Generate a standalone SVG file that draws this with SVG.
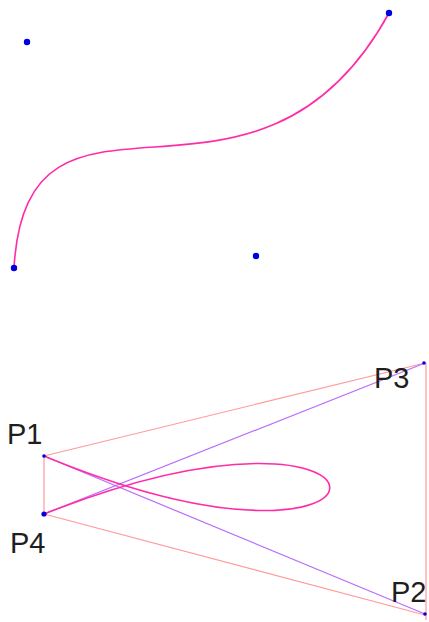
<svg xmlns="http://www.w3.org/2000/svg" width="429" height="622" viewBox="0 0 429 622">
<style>
.curve{fill:none;stroke:#ff2ca8;stroke-width:1.6}
.hull{fill:none;stroke:#ff9a9a;stroke-width:1.2}
.diag{fill:none;stroke:#b86cff;stroke-width:1.2}
.dot{fill:#0000dd}
.lbl{font-family:"Liberation Sans",Arial,sans-serif;font-size:29px;fill:#1e1e1e}
</style>
<rect width="429" height="622" fill="#ffffff"/>
<g id="top-curve">
<path class="curve" d="M14,268 C27,42 256,256 389,13"/>
</g>
<g id="top-points">
<circle class="dot" cx="27" cy="42" r="3.2"/>
<circle class="dot" cx="256" cy="256" r="3.2"/>
<circle class="dot" cx="14" cy="268" r="3.2"/>
<circle class="dot" cx="389" cy="13" r="3.2"/>
</g>
<g id="connectors">
<line class="hull" x1="44" y1="456" x2="425" y2="363"/>
<line class="hull" x1="44" y1="514" x2="425" y2="615"/>
<line class="hull" x1="44" y1="456" x2="44" y2="514"/>
<line class="hull" x1="426" y1="363" x2="426" y2="620"/>
<line class="diag" x1="44" y1="456" x2="425" y2="614"/>
<line class="diag" x1="44" y1="514" x2="425" y2="363"/>
</g>
<g id="loop-curve">
<path class="curve" d="M44,456 C425,614 425,363 44,514"/>
</g>
<g id="P1"><circle class="dot" cx="44" cy="456" r="1.8"/><text class="lbl" x="7" y="444">P1</text></g>
<g id="P2"><circle class="dot" cx="425" cy="614" r="1.8"/><text class="lbl" x="391" y="602">P2</text></g>
<g id="P3"><circle class="dot" cx="424" cy="363" r="1.8"/><text class="lbl" x="374" y="388">P3</text></g>
<g id="P4"><circle class="dot" cx="44" cy="514" r="2.6"/><text class="lbl" x="10" y="553">P4</text></g>
</svg>
